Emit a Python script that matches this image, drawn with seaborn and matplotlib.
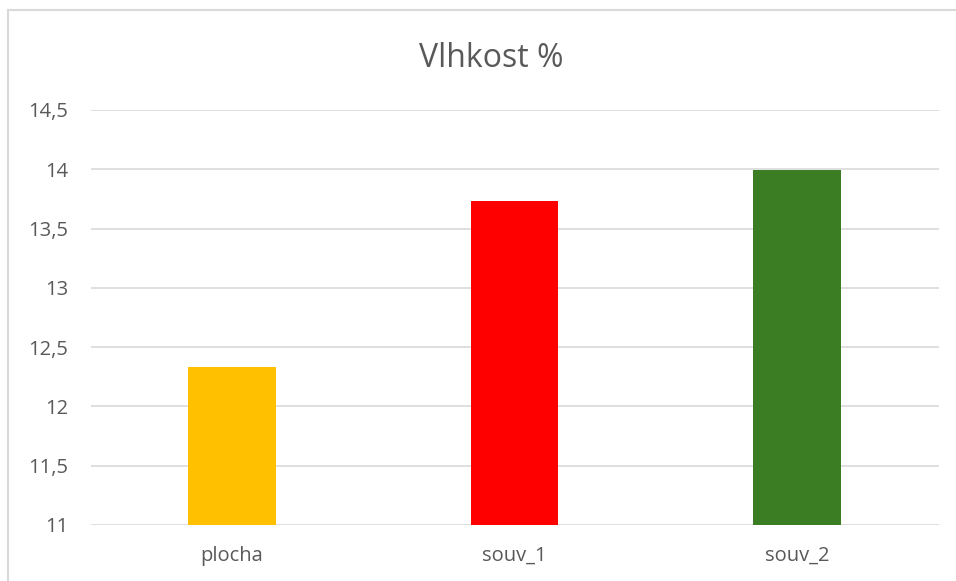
import matplotlib
matplotlib.use("Agg")
import matplotlib.pyplot as plt
import seaborn as sns
import pandas as pd
from matplotlib.ticker import FuncFormatter, MultipleLocator
from matplotlib.lines import Line2D

categories = ["plocha", "souv_1", "souv_2"]
values = [12.33, 13.73, 13.99]
colors = ["#FFC000", "#FF0000", "#3A7D22"]
title = "Vlhkost %"

sns.set_theme(style="white")
plt.rcParams['font.family'] = ['Open Sans', 'DejaVu Sans']

df = pd.DataFrame({"cat": categories, "val": values})

fig = plt.figure(figsize=(9.56, 5.81), dpi=100)
ax = fig.add_axes([0.0947, 0.0964, 0.8870, 0.7143])

sns.barplot(data=df, x="cat", y="val", hue="cat", palette=colors,
            width=0.31, legend=False, ax=ax, saturation=1, linewidth=0)

ax.set_ylim(11, 14.5)
ax.set_xlim(-0.5, 2.5)
ax.yaxis.set_major_locator(MultipleLocator(0.5))
ax.yaxis.set_major_formatter(FuncFormatter(lambda v, p: (f"{v:g}").replace(".", ",")))
ax.grid(axis="y", color="#D9D9D9", linewidth=1.2)
ax.set_axisbelow(True)
for s in ax.spines.values():
    s.set_visible(False)
ax.set_xlabel("")
ax.set_ylabel("")
ax.tick_params(axis="both", length=0, labelsize=14.5, colors="#595959")
ax.tick_params(axis="y", pad=16)
ax.tick_params(axis="x", pad=15)

fig.text(0.5136, 0.90, title, ha="center", va="center", fontsize=23, color="#595959")

# outer chart frame
fig.add_artist(Line2D([8/956, 8/956], [0, 1 - 10/581], color="#D9D9D9", linewidth=1.5, transform=fig.transFigure))
fig.add_artist(Line2D([8/956, 1], [1 - 10/581, 1 - 10/581], color="#D9D9D9", linewidth=1.5, transform=fig.transFigure))

fig.savefig("out.png", dpi=100)
